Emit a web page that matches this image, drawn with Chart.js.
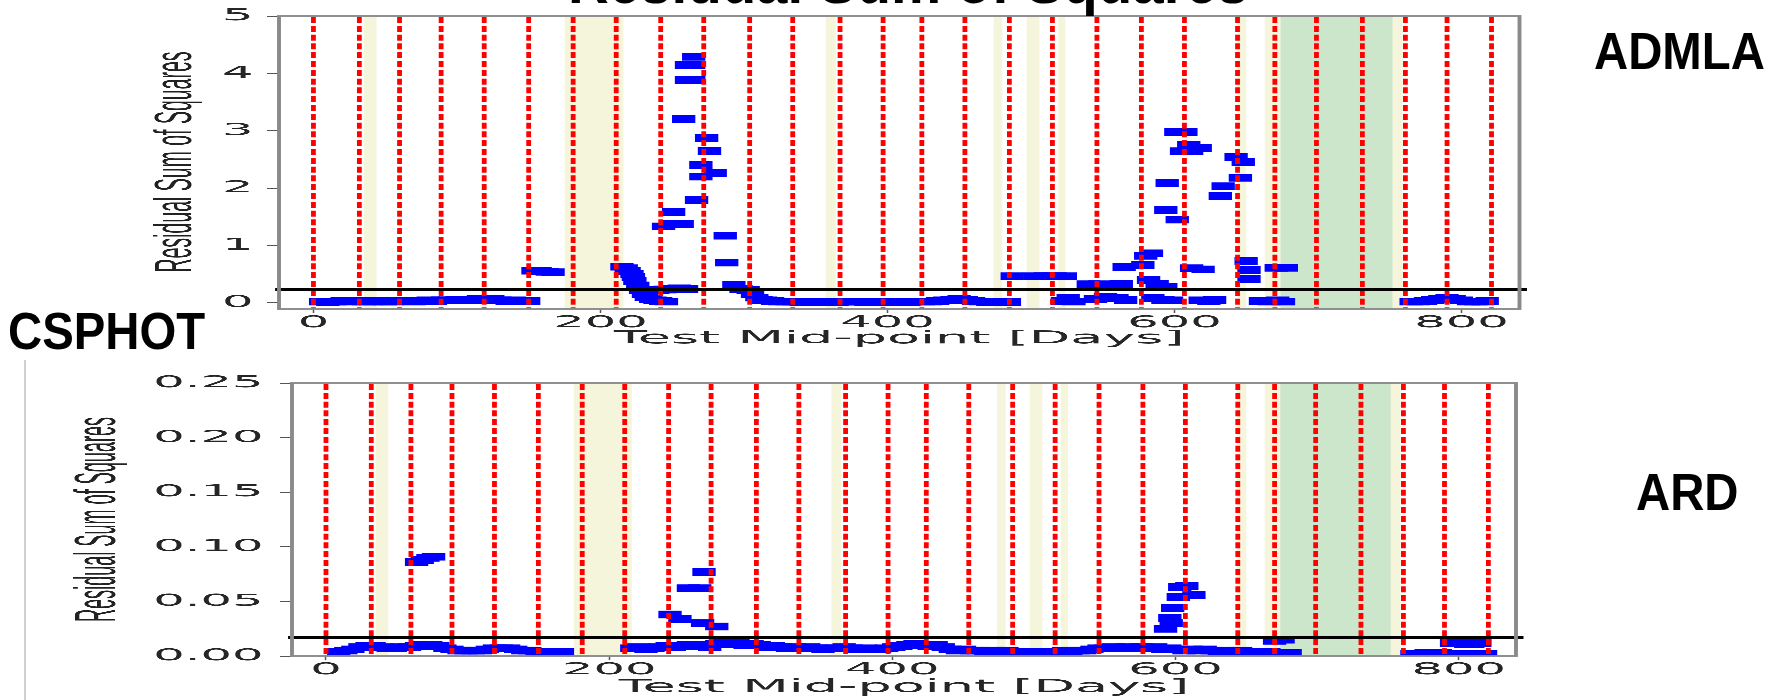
<!DOCTYPE html>
<html>
<head>
<meta charset="utf-8">
<script src="https://cdn.jsdelivr.net/npm/chart.js@4.4.1/dist/chart.umd.min.js"></script>
<style>
  html, body { margin: 0; padding: 0; background: #fff; }
  body { width: 1781px; height: 700px; position: relative; overflow: hidden; }
  /* the source figure was stretched ~3x horizontally, so the canvases are too */
  .stretch { position: absolute; left: 0; transform: scaleX(3); transform-origin: 0 0; }
  .lab { position: absolute; font-family: "Liberation Sans", Arial, sans-serif; font-weight: bold; color: #000;
         white-space: nowrap; transform: scaleX(0.91); transform-origin: 0 0; z-index: 2; }
  #edge { position: absolute; left: 24px; top: 360px; width: 2px; height: 340px; background: #d0d0d0; }
</style>
</head>
<body>
<div id="wrapTop" class="stretch" style="top:0;width:512px;height:355px"><canvas id="admla" width="512" height="355"></canvas></div>
<div id="wrapBot" class="stretch" style="top:360px;width:512px;height:340px"><canvas id="ard" width="512" height="340"></canvas></div>
<div id="edge"></div>
<div class="lab" style="left:568px;top:-49px;font-size:62px;line-height:62px">Residual Sum of Squares</div>
<div class="lab" style="left:8px;top:305px;font-size:52px;line-height:52px">CSPHOT</div>
<div class="lab" style="left:1594px;top:25px;font-size:52px;line-height:52px">ADMLA</div>
<div class="lab" style="left:1636px;top:466px;font-size:52px;line-height:52px">ARD</div>
<script>
// axes
const xMin = -24, xMax = 840.5;
const xTicks = [0, 200, 400, 600, 800];
const admlaYTicks = [0, 1, 2, 3, 4, 5];
const ardYTicks = [0, 0.05, 0.10, 0.15, 0.20, 0.25];

// red dotted markers (days) and shaded periods
const markerDays = [0, 32, 60, 89, 119, 150, 181, 211, 242, 272, 304, 334, 367, 397, 424, 454,
                    485, 515, 546, 577, 607, 644, 670, 699, 731, 761, 790, 821];
const beigeStart = [35, 175, 357, 474, 497, 519, 644, 663, 752];
const beigeEnd   = [44, 216, 364, 480, 506, 524, 650, 674, 759];
const greenStart = [674];
const greenEnd   = [752];

const admlaThreshold = 0.23;
const ardThreshold = 0.017;

// ADMLA residuals
const admlaDays = [
  5, 10, 15, 20, 25, 30, 35, 40, 45, 50, 55, 60, 65, 70, 75, 80, 85, 90, 95, 100, 105, 110, 115, 120, 125, 130, 135, 140, 145, 150,
  153, 158, 163, 167,
  215, 218, 220, 222, 223, 224, 226, 228, 230, 232, 235, 238, 242, 246,
  240, 245, 250, 255, 260,
  244, 250, 257, 251, 267, 258, 260, 265, 260, 265, 265, 274, 276, 270, 270, 280, 287, 288, 293, 298, 303, 306, 309, 312,
  315, 320, 325, 330, 335, 340, 345, 350, 355, 360, 365, 370, 375, 380, 385, 390, 395, 400, 405, 410, 415, 425, 430, 435, 440,
  445, 450, 455, 460, 465, 470, 475, 480, 485,
  487, 503, 510, 517, 524,
  522, 526, 530, 540, 548, 556, 563, 545, 552, 560, 566, 565, 578, 580, 584, 582, 588, 594, 585, 592, 598,
  595, 594, 602, 601, 608, 605, 612, 610, 612, 618, 620, 618, 624, 628, 643, 648, 646, 634, 632, 650, 652, 652, 671, 678,
  660, 666, 672, 676,
  765, 770, 775, 780, 785, 790, 795, 800, 805, 810, 815, 818
];
const admlaRss = [
  0.02, 0.01, 0.02, 0.03, 0.02, 0.03, 0.02, 0.02, 0.03, 0.02, 0.02, 0.03, 0.03, 0.02, 0.03, 0.04, 0.03, 0.04, 0.04, 0.05,
  0.04, 0.05, 0.06, 0.05, 0.06, 0.04, 0.03, 0.04, 0.03, 0.03,
  0.56, 0.55, 0.54, 0.53,
  0.63, 0.60, 0.55, 0.50, 0.45, 0.38, 0.30, 0.22, 0.15, 0.10, 0.06, 0.04, 0.03, 0.02,
  0.22, 0.23, 0.24, 0.25, 0.24,
  1.33, 1.37, 1.37, 1.58, 1.79, 3.20, 3.88, 3.88, 4.15, 4.15, 4.29, 2.87, 2.65, 2.40, 2.20, 2.26, 1.17, 0.70, 0.31, 0.24, 0.22,
  0.15, 0.09, 0.05,
  0.04, 0.03, 0.02, 0.02, 0.02, 0.01, 0.01, 0.01, 0.01, 0.01, 0.01, 0.02, 0.02, 0.02, 0.01, 0.01, 0.01, 0.02, 0.02, 0.01, 0.01,
  0.02, 0.02, 0.03, 0.04, 0.05, 0.06, 0.05, 0.03, 0.02, 0.01, 0.01, 0.01, 0.01,
  0.46, 0.46, 0.46, 0.46, 0.46,
  0.03, 0.08, 0.02, 0.32, 0.32, 0.30, 0.33, 0.06, 0.10, 0.08, 0.05, 0.62, 0.66, 0.82, 0.86, 0.40, 0.33, 0.27, 0.08, 0.05, 0.04,
  2.09, 1.62, 1.45, 2.98, 2.98, 2.64, 2.64, 2.75, 0.60, 2.70, 0.58, 0.04, 0.03, 0.05, 2.54, 2.45, 2.18, 2.03, 1.86, 0.73, 0.57,
  0.41, 0.61, 0.61,
  0.03, 0.02, 0.04, 0.02,
  0.02, 0.02, 0.03, 0.05, 0.07, 0.08, 0.07, 0.04, 0.02, 0.02, 0.02, 0.03
];

// ARD residuals
const ardDays = [
  9, 14, 19, 24, 29, 34, 39, 44, 49, 54, 59, 64, 69, 74, 79, 84, 89, 94, 99, 104, 109, 114, 119, 124, 129, 134, 139, 144, 149,
  154, 159, 164, 167,
  64, 68, 72, 76,
  216, 221, 226, 231, 236, 241, 246, 251, 256, 261, 266, 271, 276, 281, 286, 291, 296, 301, 306, 311, 316, 321, 326, 331, 336,
  341, 346, 351, 356, 361, 366, 371, 376, 381, 386, 391, 396, 401, 406, 411, 416, 421, 426, 431, 436, 441, 446, 451, 456, 461,
  466, 471, 476, 481, 486, 491, 496, 501, 506, 511, 516, 521, 526, 531, 536, 541, 546, 551, 556, 561, 566, 571, 576, 581, 586,
  591, 596, 601, 606, 611, 616, 621, 626, 631, 636, 641, 646, 651, 656, 661, 666, 671, 676, 681,
  243, 250, 256, 264, 267, 266, 276,
  593, 597, 596, 598, 602, 603, 608, 613,
  670, 676,
  767, 772, 777, 782, 787, 792, 797, 802, 807, 812, 817, 819,
  795, 800, 805, 810, 815
];
const ardRss = [
  0.004, 0.005, 0.006, 0.008, 0.009, 0.009, 0.008, 0.007, 0.007, 0.008, 0.008, 0.009, 0.010, 0.010, 0.009, 0.007, 0.006, 0.005,
  0.005, 0.005, 0.005, 0.006, 0.007, 0.007, 0.007, 0.006, 0.005, 0.005, 0.004, 0.004, 0.004, 0.004, 0.004,
  0.086, 0.088, 0.090, 0.091,
  0.007, 0.008, 0.006, 0.007, 0.008, 0.009, 0.008, 0.009, 0.010, 0.009, 0.010, 0.008, 0.011, 0.012, 0.011, 0.012, 0.010, 0.011,
  0.010, 0.008, 0.009, 0.008, 0.007, 0.008, 0.007, 0.008, 0.007, 0.006, 0.007, 0.007, 0.008, 0.007, 0.006, 0.007, 0.006, 0.006,
  0.007, 0.008, 0.009, 0.010, 0.011, 0.010, 0.009, 0.010, 0.008, 0.006, 0.005, 0.006, 0.005, 0.005, 0.004, 0.005, 0.004, 0.005,
  0.004, 0.004, 0.004, 0.004, 0.004, 0.004, 0.004, 0.005, 0.004, 0.005, 0.005, 0.006, 0.007, 0.007, 0.008, 0.007, 0.008, 0.007,
  0.008, 0.007, 0.008, 0.006, 0.007, 0.006, 0.005, 0.006, 0.005, 0.006, 0.005, 0.004, 0.005, 0.004, 0.005, 0.004, 0.004, 0.003,
  0.004, 0.003, 0.003, 0.003,
  0.038, 0.034, 0.062, 0.062, 0.077, 0.030, 0.027,
  0.025, 0.030, 0.035, 0.044, 0.054, 0.063, 0.064, 0.056,
  0.014, 0.015,
  0.002, 0.002, 0.003, 0.003, 0.003, 0.002, 0.002, 0.002, 0.002, 0.002, 0.002, 0.002,
  0.012, 0.012, 0.011, 0.011, 0.012
];

const tickFont = { family: 'DejaVu Sans', size: 16.5 };

const decorPlugin = {
  id: 'decor',
  beforeDatasetsDraw(chart) {
    const { ctx, chartArea: a, scales: { x } } = chart;
    ctx.save();
    ctx.beginPath();
    ctx.rect(a.left, a.top, a.right - a.left, a.bottom - a.top);
    ctx.clip();
    const band = (s, e, color) => {
      const x0 = x.getPixelForValue(s);
      ctx.fillStyle = color;
      ctx.fillRect(x0, a.top, x.getPixelForValue(e) - x0, a.bottom - a.top);
    };
    beigeStart.forEach((s, i) => band(s, beigeEnd[i], '#f5f5dc'));
    greenStart.forEach((s, i) => band(s, greenEnd[i], 'rgba(0, 128, 0, 0.2)'));
    ctx.restore();
  },
  afterDatasetsDraw(chart, args, opts) {
    const { ctx, chartArea: a, scales: { x, y } } = chart;
    ctx.save();
    // monthly markers
    ctx.strokeStyle = '#ff0000';
    ctx.lineWidth = 1.6;
    ctx.setLineDash([6, 2.8]);
    markerDays.forEach(d => {
      const px = x.getPixelForValue(d);
      ctx.beginPath();
      ctx.moveTo(px, a.top + 1);
      ctx.lineTo(px, a.bottom);
      ctx.stroke();
    });
    ctx.setLineDash([]);
    // threshold
    const ty = y.getPixelForValue(opts.threshold);
    ctx.strokeStyle = '#000';
    ctx.lineWidth = 2.8;
    ctx.beginPath();
    ctx.moveTo(a.left - 1.3, ty);
    ctx.lineTo(a.right + 2.5, ty);
    ctx.stroke();
    // frame
    ctx.strokeStyle = '#8a8a8a';
    ctx.lineWidth = 1.3;
    ctx.strokeRect(a.left, a.top, a.right - a.left, a.bottom - a.top);
    ctx.restore();
  },
  afterDraw(chart, args, opts) {
    const t = opts.yTitle;
    const ctx = chart.ctx;
    ctx.save();
    ctx.font = `${t.size}px "Liberation Sans Narrow", "Liberation Sans", sans-serif`;
    const w = ctx.measureText(t.text).width;
    ctx.translate(t.x, t.y);
    ctx.rotate(-Math.PI / 2);
    ctx.scale(t.len / w, 1);
    ctx.textAlign = 'center';
    ctx.textBaseline = 'middle';
    ctx.fillStyle = '#222';
    ctx.fillText(t.text, 0, 0);
    ctx.restore();
  }
};

function buildChart(canvasId, o) {
  const ctx = document.getElementById(canvasId).getContext('2d');
  return new Chart(ctx, {
    type: 'scatter',
    data: {
      datasets: [{
        data: o.days.map((d, i) => ({ x: d, y: o.rss[i] })),
        backgroundColor: '#0000ff',
        borderColor: '#0000ff',
        borderWidth: 0,
        pointStyle: 'rect',
        pointRadius: 5.5,
        pointHoverRadius: 5.5
      }]
    },
    options: {
      responsive: false,
      animation: false,
      devicePixelRatio: 3,
      events: [],
      layout: { padding: { top: o.padTop, right: o.padRight, left: 0, bottom: 0 } },
      scales: {
        x: {
          type: 'linear',
          min: xMin,
          max: xMax,
          afterBuildTicks: s => { s.ticks = xTicks.map(v => ({ value: v })); },
          afterFit: s => { s.height = o.xHeight; },
          ticks: { autoSkip: false, maxRotation: 0, padding: 0, color: '#262626', font: tickFont },
          grid: { drawOnChartArea: false, tickLength: 4, tickColor: '#555', tickWidth: 0.5 },
          border: { display: false },
          title: {
            display: true,
            text: 'Test Mid-point [Days]',
            color: '#262626',
            font: { family: 'DejaVu Sans', size: 18 },
            padding: { top: 0, bottom: o.xTitlePad }
          }
        },
        y: {
          type: 'linear',
          min: o.yMin,
          max: o.yMax,
          afterBuildTicks: s => { s.ticks = o.yTicks.map(v => ({ value: v })); },
          afterFit: s => { s.width = o.yWidth; },
          ticks: { padding: o.yTickPad, color: '#262626', font: tickFont, callback: o.fmt },
          grid: { drawOnChartArea: false, tickLength: 4, tickColor: '#555', tickWidth: 1 },
          border: { display: false }
        }
      },
      plugins: {
        legend: { display: false },
        tooltip: { enabled: false },
        decor: { threshold: o.threshold, yTitle: o.yTitle }
      }
    },
    plugins: [decorPlugin]
  });
}

buildChart('admla', {
  days: admlaDays, rss: admlaRss, yTicks: admlaYTicks, yMin: -0.11, yMax: 5,
  threshold: admlaThreshold, fmt: v => String(v),
  padTop: 16, padRight: 5.33, yWidth: 93, xHeight: 46, xTitlePad: 5.5, yTickPad: 4.5,
  yTitle: { text: 'Residual Sum of Squares', x: 59, y: 162, len: 221, size: 17 }
});

buildChart('ard', {
  days: ardDays, rss: ardRss, yTicks: ardYTicks, yMin: 0, yMax: 0.25,
  threshold: ardThreshold, fmt: v => v.toFixed(2),
  padTop: 23, padRight: 6.67, yWidth: 97.33, xHeight: 44, xTitlePad: 2, yTickPad: 5.5,
  yTitle: { text: 'Residual Sum of Squares', x: 33, y: 159.5, len: 205, size: 19 }
});
</script>
</body>
</html>
